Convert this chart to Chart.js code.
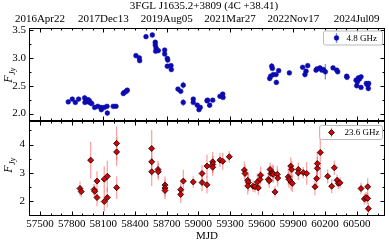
<!DOCTYPE html>
<html>
<head>
<meta charset="utf-8">
<script src="https://cdn.jsdelivr.net/npm/chart.js@4"></script>
<style>
  body { margin: 0; background: #fff; }
  .panel { position: absolute; left: 0; width: 389px; }
  #topBox { top: 0; height: 121px; }
  #botBox { top: 120px; height: 123px; }
</style>
</head>
<body>
<div class="panel" id="topBox"><canvas id="topChart"></canvas></div>
<div class="panel" id="botBox"><canvas id="botChart"></canvas></div>
<script>
// x axis (MJD)
const mjdTicks = [57500, 57800, 58100, 58400, 58700, 59000, 59300, 59600, 59900, 60200, 60500];
const dateTickMjd = [57500, 58100, 58700, 59300, 59900, 60500];
const dateTickLabels = ['2016Apr22', '2017Dec13', '2019Aug05', '2021Mar27', '2022Nov17', '2024Jul09'];
const topYTicks = [2.0, 2.5, 3.0, 3.5];
const botYTicks = [2, 3, 4];

// 4.8 GHz
const topMjd = [57768, 57806, 57835, 57866, 57923, 57926, 57942, 57955, 57958, 57967, 57980, 57990,
  58018, 58047, 58078, 58081, 58109, 58135, 58138, 58194, 58220, 58289, 58299, 58318, 58327,
  58409, 58441, 58444, 58504, 58564, 58592, 58592, 58599, 58596, 58621, 58681, 58681, 58706,
  58710, 58706, 58741, 58744, 58807, 58833, 58857, 58857, 58952, 58952, 58990, 59006, 59018,
  59082, 59088, 59107, 59136, 59205, 59231, 59234, 59676, 59685, 59695, 59701, 59710, 59736,
  59739, 59761, 59862, 59988, 60010, 60020, 60036, 60115, 60124, 60152, 60169, 60184, 60203,
  60276, 60311, 60320, 60405, 60408, 60494, 60500, 60507, 60516, 60526, 60541, 60541, 60591,
  60604, 60610, 60613];
const topFlux = [2.21, 2.26, 2.20, 2.26, 2.28, 2.20, 2.23, 2.25, 2.21, 2.23, 2.19, 2.18,
  2.11, 2.13, 2.11, 2.07, 2.11, 2.13, 2.01, 2.13, 2.13, 2.36, 2.38, 2.40, 2.42,
  3.04, 3.00, 2.95, 3.38, 3.41, 3.28, 3.23, 3.18, 3.12, 3.13, 3.14, 3.07, 2.99,
  2.96, 2.85, 2.86, 2.79, 2.44, 2.40, 2.51, 2.20, 2.26, 2.20, 2.15, 2.07, 2.11,
  2.23, 2.24, 2.15, 2.24, 2.31, 2.35, 2.29, 2.63, 2.67, 2.85, 2.81, 2.70, 2.70,
  2.56, 2.77, 2.73, 2.83, 2.70, 2.76, 2.86, 2.78, 2.80, 2.82, 2.78, 2.79, 2.75,
  2.82, 2.78, 2.75, 2.67, 2.65, 2.60, 2.50, 2.57, 2.64, 2.62, 2.66, 2.47, 2.54,
  2.51, 2.45, 2.54];
const topErr = [0.02, 0.02, 0.02, 0.02, 0.05, 0.04, 0.03, 0.03, 0.03, 0.03, 0.03, 0.02,
  0.02, 0.02, 0.02, 0.03, 0.02, 0.03, 0.05, 0.02, 0.02, 0.03, 0.02, 0.02, 0.02,
  0.02, 0.03, 0.03, 0.04, 0.03, 0.03, 0.04, 0.05, 0.04, 0.03, 0.03, 0.04, 0.03,
  0.03, 0.03, 0.03, 0.03, 0.02, 0.02, 0.06, 0.06, 0.03, 0.03, 0.02, 0.03, 0.02,
  0.03, 0.03, 0.02, 0.02, 0.02, 0.03, 0.03, 0.04, 0.03, 0.06, 0.03, 0.03, 0.03,
  0.04, 0.03, 0.02, 0.03, 0.05, 0.03, 0.03, 0.04, 0.03, 0.04, 0.03, 0.04, 0.14,
  0.03, 0.03, 0.03, 0.03, 0.02, 0.03, 0.04, 0.03, 0.03, 0.03, 0.02, 0.03, 0.03,
  0.03, 0.04, 0.03];

// 23.6 GHz
const botMjd = [57879, 57891, 57980, 58012, 58018, 58040, 58040, 58109, 58109, 58138, 58138,
  58226, 58226, 58226, 58558, 58558, 58558, 58618, 58621, 58684, 58684, 58684, 58833, 58833,
  58858, 58952, 59035, 59035, 59082, 59082, 59136, 59136, 59136, 59205, 59231, 59293, 59436,
  59442, 59468, 59474, 59468, 59518, 59537, 59559, 59568, 59584, 59590, 59663, 59672, 59679,
  59688, 59704, 59710, 59726, 59748, 59752, 59852, 59859, 59875, 59885, 59878, 59890, 59947,
  59947, 59994, 60026, 60105, 60121, 60127, 60127, 60155, 60225, 60263, 60288, 60314, 60326,
  60342, 60541, 60573, 60588, 60604, 60604, 60610];
const botFlux = [2.45, 2.34, 3.45, 2.41, 2.35, 2.71, 2.13, 2.78, 1.99, 2.88, 2.13,
  4.04, 3.74, 2.48, 3.86, 3.39, 3.04, 3.12, 3.04, 2.57, 2.47, 2.38, 2.41, 2.24,
  2.71, 2.68, 2.98, 2.66, 3.24, 2.58, 3.39, 3.30, 3.20, 3.45, 3.41, 3.57, 3.10,
  2.98, 2.74, 2.66, 2.54, 2.53, 2.51, 2.68, 2.47, 2.77, 2.92, 2.77, 2.72, 3.12,
  2.98, 3.00, 2.95, 2.33, 2.95, 2.82, 2.86, 2.77, 3.24, 3.12, 2.68, 2.63, 3.12,
  3.00, 3.01, 2.98, 2.51, 2.80, 3.16, 3.33, 3.72, 2.88, 2.53, 3.18, 2.74, 2.63,
  2.65, 2.45, 2.08, 2.13, 2.51, 2.10, 1.74];
const botErr = [0.25, 0.2, 0.65, 0.2, 0.2, 0.35, 0.3, 0.45, 0.35, 0.55, 0.35,
  0.6, 0.5, 0.4, 0.65, 0.5, 0.5, 0.3, 0.3, 0.3, 0.3, 0.3, 0.25, 0.3,
  0.4, 0.2, 0.3, 0.3, 0.4, 0.3, 0.35, 0.3, 0.3, 0.25, 0.3, 0.2, 0.3,
  0.3, 0.3, 0.3, 0.3, 0.2, 0.2, 0.3, 0.25, 0.3, 0.3, 0.2, 0.25, 0.25,
  0.3, 0.3, 0.3, 0.2, 0.3, 0.3, 0.3, 0.3, 0.3, 0.3, 0.3, 0.3, 0.25,
  0.25, 0.2, 0.4, 0.3, 0.35, 0.4, 0.4, 0.9, 0.25, 0.25, 0.25, 0.2, 0.2,
  0.2, 0.2, 0.2, 0.2, 0.3, 0.2, 0.2];

const X_MIN = 57396, X_MAX = 60768;
const SERIF = "'Liberation Serif', 'DejaVu Serif', serif";
const tickFont = { family: SERIF, size: 11 };

// pin axis box sizes so both panels line up
const pinSize = (prop, size) => s => {
  s[prop] = size;
  s.paddingTop = 0; s.paddingBottom = 0; s.paddingLeft = 0; s.paddingRight = 0;
};

// error bars, drawn under the markers
const errorBars = {
  id: 'errorBars',
  beforeDatasetsDraw(chart) {
    const { ctx, chartArea: a, scales: { x, y } } = chart;
    ctx.save();
    ctx.beginPath();
    ctx.rect(a.left, a.top, a.right - a.left, a.bottom - a.top);
    ctx.clip();
    chart.data.datasets.forEach(ds => {
      if (!ds.errors) return;
      ctx.strokeStyle = ds.errorColor;
      ctx.lineWidth = 1.3;
      ds.data.forEach((p, i) => {
        const px = x.getPixelForValue(p.x);
        ctx.beginPath();
        ctx.moveTo(px, y.getPixelForValue(p.y - ds.errors[i]));
        ctx.lineTo(px, y.getPixelForValue(p.y + ds.errors[i]));
        ctx.stroke();
      });
    });
    ctx.restore();
  }
};

// box + inward ticks on all four sides
const frameTicks = {
  id: 'frameTicks',
  afterDraw(chart, args, opts) {
    const { ctx, chartArea: a, scales } = chart;
    const xs = scales.x, ys = scales.y;
    ctx.save();
    ctx.strokeStyle = '#000';
    ctx.lineWidth = 1;
    const L = Math.round(a.left) + 0.5, R = Math.round(a.right) - 0.5;
    const T = Math.round(a.top) + 0.5, B = Math.round(a.bottom) - 0.5;
    ctx.strokeRect(L, T, R - L, B - T);
    ctx.beginPath();
    for (let m = 57400; m <= X_MAX; m += 100) {
      const px = Math.round(xs.getPixelForValue(m)) + 0.5;
      const top = (m - 57500) % opts.topMajor === 0 ? 4 : 2;
      const bot = (m - 57500) % opts.botMajor === 0 ? 4 : 2;
      ctx.moveTo(px, T); ctx.lineTo(px, T + top);
      ctx.moveTo(px, B); ctx.lineTo(px, B - bot);
    }
    const n0 = Math.ceil(ys.min / opts.yMinor), n1 = Math.floor(ys.max / opts.yMinor);
    for (let n = n0; n <= n1; n++) {
      const v = n * opts.yMinor;
      const py = Math.round(ys.getPixelForValue(v)) + 0.5;
      const len = opts.yMajor.some(t => Math.abs(t - v) < 1e-6) ? 4 : 2;
      ctx.moveTo(L, py); ctx.lineTo(L + len, py);
      ctx.moveTo(R, py); ctx.lineTo(R - len, py);
    }
    ctx.stroke();
    ctx.restore();
  }
};

// legend box in the upper right corner
const legendBox = {
  id: 'legendBox',
  afterDraw(chart, args, opts) {
    const { ctx, chartArea: a } = chart;
    const ds = chart.data.datasets[0];
    const w = opts.width, h = 14;
    const x0 = a.right - 2.5 - w, y0 = a.top + opts.top;
    ctx.save();
    ctx.fillStyle = 'rgba(255,255,255,0.8)';
    ctx.strokeStyle = '#bbb';
    ctx.lineWidth = 1;
    ctx.beginPath();
    ctx.roundRect(x0, y0, w, h, 2);
    ctx.fill();
    ctx.stroke();
    const mx = x0 + opts.markerX, my = y0 + h / 2;
    ctx.strokeStyle = ds.errorColor;
    ctx.lineWidth = 1.3;
    ctx.beginPath(); ctx.moveTo(mx, my - 5); ctx.lineTo(mx, my + 5); ctx.stroke();
    ctx.fillStyle = ds.pointBackgroundColor;
    ctx.strokeStyle = ds.pointBorderColor;
    ctx.lineWidth = ds.pointBorderWidth;
    ctx.beginPath();
    if (ds.pointStyle === 'rectRot') {
      const r = ds.pointRadius;
      ctx.moveTo(mx, my - r); ctx.lineTo(mx + r, my); ctx.lineTo(mx, my + r); ctx.lineTo(mx - r, my); ctx.closePath();
    } else {
      ctx.arc(mx, my, ds.pointRadius, 0, Math.PI * 2);
    }
    ctx.fill();
    ctx.stroke();
    ctx.fillStyle = '#000';
    ctx.font = `9px ${SERIF}`;
    ctx.textBaseline = 'middle';
    ctx.fillText(ds.label, x0 + opts.textX, my + 0.5);
    ctx.restore();
  }
};

// y label F_Jy, and the title when asked
const textBits = {
  id: 'textBits',
  afterDraw(chart, args, opts) {
    const { ctx, chartArea: a } = chart;
    ctx.save();
    ctx.fillStyle = '#000';
    ctx.translate(8, (a.top + a.bottom) / 2 + opts.labelShift);
    ctx.rotate(-Math.PI / 2);
    ctx.textBaseline = 'alphabetic';
    ctx.font = `italic 12px ${SERIF}`;
    const fw = ctx.measureText('F').width;
    ctx.font = `italic 8px ${SERIF}`;
    const jw = ctx.measureText('Jy').width;
    const sx = -(fw + jw) / 2;
    ctx.font = `italic 12px ${SERIF}`;
    ctx.fillText('F', sx, 4);
    ctx.font = `italic 8px ${SERIF}`;
    ctx.fillText('Jy', sx + fw + 0.5, 7);
    ctx.restore();
    if (opts.title) {
      ctx.save();
      ctx.fillStyle = '#000';
      ctx.font = `11px ${SERIF}`;
      ctx.textAlign = 'center';
      ctx.textBaseline = 'middle';
      ctx.fillText(opts.title, 204, 6.5);
      ctx.restore();
    }
  }
};

const baseOpts = {
  responsive: true,
  maintainAspectRatio: false,
  animation: false,
  events: []
};

new Chart(document.getElementById('topChart'), {
  type: 'scatter',
  data: {
    datasets: [{
      label: '4.8 GHz',
      data: topMjd.map((m, i) => ({ x: m, y: topFlux[i] })),
      errors: topErr,
      errorColor: 'rgba(80,100,255,0.75)',
      pointRadius: 2.4,
      pointBackgroundColor: '#0b0bb0',
      pointBorderColor: '#0b0bb0',
      pointBorderWidth: 0.5
    }]
  },
  options: {
    ...baseOpts,
    layout: { autoPadding: false, padding: { left: 0, right: 4, top: 0, bottom: 0 } },
    plugins: {
      legend: { display: false },
      tooltip: { enabled: false },
      frameTicks: { topMajor: 600, botMajor: 600, yMinor: 0.25, yMajor: topYTicks },
      legendBox: { width: 59, top: 3, markerX: 13, textX: 23 },
      textBits: { title: '3FGL J1635.2+3809 (4C +38.41)', labelShift: 1 }
    },
    scales: {
      x: { type: 'linear', min: X_MIN, max: X_MAX, display: false },
      x2: {
        type: 'linear', position: 'top', min: X_MIN, max: X_MAX,
        afterBuildTicks: s => { s.ticks = dateTickMjd.map(v => ({ value: v })); },
        afterFit: pinSize('height', 28),
        ticks: {
          callback: v => dateTickLabels[dateTickMjd.indexOf(v)],
          font: tickFont, color: '#000', padding: 2, maxRotation: 0, autoSkip: false
        },
        grid: { display: false, drawTicks: false },
        border: { display: false }
      },
      y: {
        min: 1.867, max: 3.536,
        afterBuildTicks: s => { s.ticks = topYTicks.map(v => ({ value: v })); },
        afterFit: pinSize('width', 29),
        ticks: { callback: v => v.toFixed(1), font: tickFont, color: '#000', padding: 3 },
        grid: { display: false, drawTicks: false },
        border: { display: false }
      }
    }
  },
  plugins: [errorBars, frameTicks, legendBox, textBits]
});

new Chart(document.getElementById('botChart'), {
  type: 'scatter',
  data: {
    datasets: [{
      label: '23.6 GHz',
      data: botMjd.map((m, i) => ({ x: m, y: botFlux[i] })),
      errors: botErr,
      errorColor: 'rgba(255,90,90,0.55)',
      pointStyle: 'rectRot',
      pointRadius: 3,
      pointBackgroundColor: '#d80000',
      pointBorderColor: '#000',
      pointBorderWidth: 0.8
    }]
  },
  options: {
    ...baseOpts,
    layout: { autoPadding: false, padding: { left: 0, right: 4, top: 1, bottom: 0 } },
    plugins: {
      legend: { display: false },
      tooltip: { enabled: false },
      frameTicks: { topMajor: 300, botMajor: 300, yMinor: 0.5, yMajor: botYTicks },
      legendBox: { width: 63, top: 4.5, markerX: 12, textX: 25 },
      textBits: { labelShift: -3 }
    },
    scales: {
      x: {
        type: 'linear', min: X_MIN, max: X_MAX,
        afterBuildTicks: s => { s.ticks = mjdTicks.map(v => ({ value: v })); },
        afterFit: pinSize('height', 27),
        ticks: { callback: v => String(v), font: tickFont, color: '#000', padding: 2, maxRotation: 0, autoSkip: false },
        title: { display: true, text: 'MJD', font: tickFont, color: '#000', padding: { top: 0, bottom: 0 } },
        grid: { display: false, drawTicks: false },
        border: { display: false }
      },
      y: {
        min: 1.48, max: 4.83,
        afterBuildTicks: s => { s.ticks = botYTicks.map(v => ({ value: v })); },
        afterFit: pinSize('width', 29),
        ticks: { callback: v => String(v), font: tickFont, color: '#000', padding: 4 },
        grid: { display: false, drawTicks: false },
        border: { display: false }
      }
    }
  },
  plugins: [errorBars, frameTicks, legendBox, textBits]
});
</script>
</body>
</html>
